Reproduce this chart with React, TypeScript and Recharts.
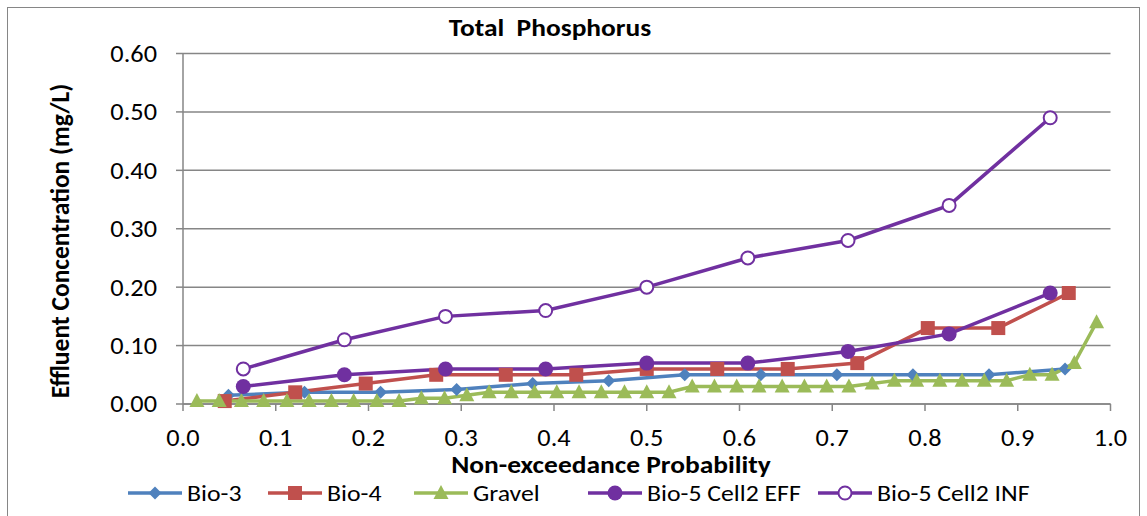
import React from 'react';
import { LineChart, Line, XAxis, YAxis, CartesianGrid, Legend } from 'recharts';

const FONT = 'Carlito, Lato, "Open Sans", sans-serif';
const AXIS_GRAY = '#868686';
// the source picture is a bit wider than tall, so horizontal text is stretched
const TEXT_STRETCH = 1.12;

const BLUE = '#4F81BD';
const RED = '#C0504D';
const GREEN = '#9BBB59';
const PURPLE = '#7030A0';

const xTicks = [0, 0.1, 0.2, 0.3, 0.4, 0.5, 0.6, 0.7, 0.8, 0.9, 1.0];
const yTicks = [0, 0.1, 0.2, 0.3, 0.4, 0.5, 0.6];

// non-exceedance probability (x) and effluent TP in mg/L (y)
const bio3Prob = [0.049, 0.131, 0.213, 0.295, 0.377, 0.459, 0.541, 0.623, 0.705, 0.787, 0.869, 0.951];
const bio3Conc = [0.015, 0.02, 0.02, 0.025, 0.035, 0.04, 0.05, 0.05, 0.05, 0.05, 0.05, 0.06];

const bio4Prob = [0.045, 0.121, 0.197, 0.273, 0.348, 0.424, 0.5, 0.576, 0.652, 0.727, 0.803, 0.879, 0.955];
const bio4Conc = [0.005, 0.02, 0.035, 0.05, 0.05, 0.05, 0.06, 0.06, 0.06, 0.07, 0.13, 0.13, 0.19];

const gravelProb = [
  0.015, 0.039, 0.063, 0.087, 0.112, 0.136, 0.16, 0.184, 0.209, 0.233,
  0.257, 0.282, 0.306, 0.33, 0.354, 0.379, 0.403, 0.427, 0.451, 0.476,
  0.5, 0.524, 0.549, 0.573, 0.597, 0.621, 0.646, 0.67, 0.694, 0.718,
  0.743, 0.767, 0.791, 0.816, 0.84, 0.864, 0.888, 0.913, 0.937, 0.961,
  0.985,
];
const gravelConc = [
  0.005, 0.005, 0.005, 0.005, 0.005, 0.005, 0.005, 0.005, 0.005, 0.005,
  0.01, 0.01, 0.015, 0.02, 0.02, 0.02, 0.02, 0.02, 0.02, 0.02,
  0.02, 0.02, 0.03, 0.03, 0.03, 0.03, 0.03, 0.03, 0.03, 0.03,
  0.035, 0.04, 0.04, 0.04, 0.04, 0.04, 0.04, 0.05, 0.05, 0.07,
  0.14,
];

const bio5Prob = [0.065, 0.174, 0.283, 0.391, 0.5, 0.609, 0.717, 0.826, 0.935];
const bio5EffConc = [0.03, 0.05, 0.06, 0.06, 0.07, 0.07, 0.09, 0.12, 0.19];
const bio5InfConc = [0.06, 0.11, 0.15, 0.16, 0.2, 0.25, 0.28, 0.34, 0.49];

const toPoints = (xs: number[], ys: number[]) => xs.map((x, i) => ({ x, y: ys[i] }));

type DotProps = { cx?: number; cy?: number; index?: number };

const Diamond = ({ cx, cy }: DotProps) =>
  cx == null || cy == null ? null : (
    <path d={`M${cx},${cy - 6.5}L${cx + 6.5},${cy}L${cx},${cy + 6.5}L${cx - 6.5},${cy}Z`} fill={BLUE} />
  );

const Square = ({ cx, cy }: DotProps) =>
  cx == null || cy == null ? null : <rect x={cx - 7} y={cy - 7} width={14} height={14} fill={RED} />;

const Triangle = ({ cx, cy }: DotProps) =>
  cx == null || cy == null ? null : (
    <path d={`M${cx},${cy - 8}L${cx + 7.5},${cy + 6}L${cx - 7.5},${cy + 6}Z`} fill={GREEN} />
  );

const FilledCircle = ({ cx, cy }: DotProps) =>
  cx == null || cy == null ? null : <circle cx={cx} cy={cy} r={7.5} fill={PURPLE} />;

const OpenCircle = ({ cx, cy }: DotProps) =>
  cx == null || cy == null ? null : (
    <circle cx={cx} cy={cy} r={6.5} fill="#fff" stroke={PURPLE} strokeWidth={2} />
  );

const series = [
  { name: 'Bio-3', color: BLUE, Dot: Diamond, points: toPoints(bio3Prob, bio3Conc) },
  { name: 'Bio-4', color: RED, Dot: Square, points: toPoints(bio4Prob, bio4Conc) },
  { name: 'Gravel', color: GREEN, Dot: Triangle, points: toPoints(gravelProb, gravelConc) },
  { name: 'Bio-5 Cell2 EFF', color: PURPLE, Dot: FilledCircle, points: toPoints(bio5Prob, bio5EffConc) },
  { name: 'Bio-5 Cell2 INF', color: PURPLE, Dot: OpenCircle, points: toPoints(bio5Prob, bio5InfConc) },
];

// width of each legend entry (swatch + label + gap)
const legendSlots = [140, 146, 174, 230, 250];

const LegendContent = () => (
  <div style={{ display: 'flex', alignItems: 'center', fontFamily: FONT, fontSize: 23, color: '#000', lineHeight: '26px' }}>
    {series.map(({ name, color, Dot }, i) => (
      <div key={name} style={{ display: 'flex', alignItems: 'center', width: legendSlots[i], flex: 'none' }}>
        <svg width={54} height={20} style={{ marginRight: 5, flex: 'none' }}>
          <line x1={0} y1={10} x2={54} y2={10} stroke={color} strokeWidth={3.5} />
          <Dot cx={27} cy={10} />
        </svg>
        <span style={{ display: 'inline-block', whiteSpace: 'nowrap', transform: `scaleX(${TEXT_STRETCH})`, transformOrigin: 'left center' }}>
          {name}
        </span>
      </div>
    ))}
  </div>
);

const XTick = ({ x, y, payload }: any) => (
  <g transform={`translate(${x},${y})`}>
    <text transform={`scale(${TEXT_STRETCH},1)`} textAnchor="middle" dy="0.71em" fontSize={23.5} fontFamily={FONT} fill="#000">
      {Number(payload.value).toFixed(1)}
    </text>
  </g>
);

const YTick = ({ x, y, payload }: any) => (
  <g transform={`translate(${x},${y})`}>
    <text transform={`scale(${TEXT_STRETCH},1)`} textAnchor="end" dy="0.36em" fontSize={23.5} fontFamily={FONT} fill="#000">
      {Number(payload.value).toFixed(2)}
    </text>
  </g>
);

export default function App() {
  return (
    <div style={{ position: 'absolute', left: 0, top: 0, width: 1147, height: 516, background: '#fff', overflow: 'hidden' }}>
      <div
        style={{
          position: 'absolute', left: 7, top: 7, width: 1133, height: 530,
          border: `1.5px solid ${AXIS_GRAY}`, boxSizing: 'border-box',
        }}
      />
      <LineChart
        width={1147}
        height={516}
        margin={{ top: 53.5, right: 36.5, left: 123, bottom: 72 }}
        style={{ position: 'absolute', left: 0, top: 0 }}
      >
        <CartesianGrid vertical={false} stroke={AXIS_GRAY} strokeWidth={1.5} />
        <XAxis
          type="number"
          dataKey="x"
          domain={[0, 1]}
          ticks={xTicks}
          allowDuplicatedCategory={false}
          height={40}
          tickSize={7}
          tickMargin={18}
          tick={<XTick />}
          axisLine={{ stroke: AXIS_GRAY, strokeWidth: 1.5 }}
          tickLine={{ stroke: AXIS_GRAY, strokeWidth: 1.5 }}
        />
        <YAxis
          type="number"
          domain={[0, 0.6]}
          ticks={yTicks}
          width={60}
          tickSize={7}
          tickMargin={19}
          tick={<YTick />}
          axisLine={{ stroke: AXIS_GRAY, strokeWidth: 1.5 }}
          tickLine={{ stroke: AXIS_GRAY, strokeWidth: 1.5 }}
        />
        {series.map(({ name, color, Dot, points }) => (
          <Line
            key={name}
            name={name}
            data={points}
            dataKey="y"
            stroke={color}
            strokeWidth={3.5}
            dot={(p: any) => <Dot key={`${name}-${p.index}`} cx={p.cx} cy={p.cy} />}
            activeDot={false}
            isAnimationActive={false}
          />
        ))}
        <Legend
          layout="horizontal"
          verticalAlign="middle"
          content={<LegendContent />}
          wrapperStyle={{ left: 128, top: 480, width: 1010, height: 26 }}
        />
      </LineChart>
      <div
        style={{
          position: 'absolute', left: 550, top: 28, transform: `translate(-50%, -50%) scaleX(${TEXT_STRETCH})`,
          fontFamily: FONT, fontWeight: 'bold', fontSize: 24.5, lineHeight: 1, whiteSpace: 'pre',
        }}
      >
        Total  Phosphorus
      </div>
      <div
        style={{
          position: 'absolute', left: 611, top: 465, transform: `translate(-50%, -50%) scaleX(${TEXT_STRETCH})`,
          fontFamily: FONT, fontWeight: 'bold', fontSize: 24.5, lineHeight: 1, whiteSpace: 'nowrap',
        }}
      >
        Non-exceedance Probability
      </div>
      <div
        style={{
          position: 'absolute', left: 61, top: 241, transform: 'translate(-50%, -50%) rotate(-90deg)',
          fontFamily: FONT, fontWeight: 'bold', fontSize: 25.5, lineHeight: 1, whiteSpace: 'nowrap',
        }}
      >
        Effluent Concentration (mg/L)
      </div>
    </div>
  );
}
